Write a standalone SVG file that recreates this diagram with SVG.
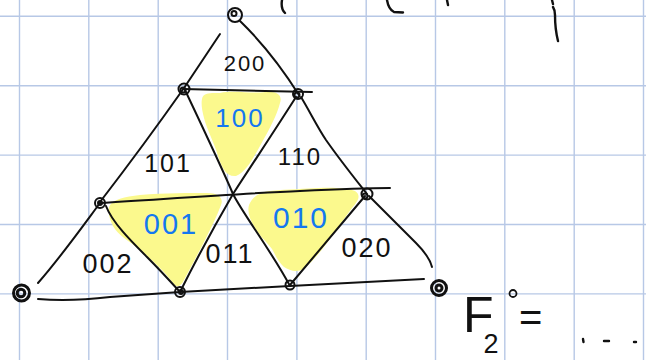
<svg xmlns="http://www.w3.org/2000/svg" width="646" height="360" viewBox="0 0 646 360">
<style>
.grid line{stroke:#b7c8e6;stroke-width:1.4}
.hl{fill:#fbf98d;stroke:none}
.edge{fill:none;stroke:#111;stroke-width:2;stroke-linecap:round;stroke-linejoin:round}
.node circle{fill:none;stroke:#111;stroke-width:2}
.big circle{stroke-width:3}
.lbl{font-family:"Liberation Sans",Arial,sans-serif;fill:#111;text-anchor:middle;letter-spacing:2px}
.blue{fill:#1478f0}
.mark{fill:none;stroke:#111;stroke-width:2.4;stroke-linecap:round}
</style>
<rect width="646" height="360" fill="#ffffff"/>
<g class="grid">
<line x1="19.5" y1="0" x2="19.5" y2="360"/>
<line x1="88.8" y1="0" x2="88.8" y2="360"/>
<line x1="158.2" y1="0" x2="158.2" y2="360"/>
<line x1="227.5" y1="0" x2="227.5" y2="360"/>
<line x1="296.9" y1="0" x2="296.9" y2="360"/>
<line x1="366.2" y1="0" x2="366.2" y2="360"/>
<line x1="435.5" y1="0" x2="435.5" y2="360"/>
<line x1="504.8" y1="0" x2="504.8" y2="360"/>
<line x1="574.2" y1="0" x2="574.2" y2="360"/>
<line x1="643.5" y1="0" x2="643.5" y2="360"/>
<line x1="0" y1="16.3" x2="646" y2="16.3"/>
<line x1="0" y1="85.7" x2="646" y2="85.7"/>
<line x1="0" y1="155.1" x2="646" y2="155.1"/>
<line x1="0" y1="224.5" x2="646" y2="224.5"/>
<line x1="0" y1="293.9" x2="646" y2="293.9"/>
</g>
<g id="highlights">
<path class="hl" d="M202,99 C203,92 212,93 220,93 C235,90 250,94 266,92 C276,91 283,95 280,103 C277,115 270,128 260,146 C252,160 246,172 236,176 C226,177 222,168 218,156 C214,142 207,130 204,118 C202,110 201,104 202,99 Z"/>
<path class="hl" d="M109,207 C112,199 125,197 140,195 C165,193 190,193 207,193 C218,193 224,198 221,205 C218,213 214,222 207,236 C200,250 192,265 184,280 C181,287 176,288 173,283 C165,272 152,260 140,250 C128,240 118,235 113,226 C109,218 108,212 109,207 Z"/>
<path class="hl" d="M249,205 C252,197 260,192 270,191 C290,189 305,189 318,188 C332,187 348,188 355,191 C361,195 359,200 352,208 C346,216 342,222 336,230 C328,242 318,256 305,268 C298,273 290,271 284,267 C278,262 275,254 272,249 C265,240 258,234 255,228 C250,220 247,212 249,205 Z"/>
</g>
<g id="connectors">
<path class="edge" d="M240,21 Q272,52 299,95"/>
<path class="edge" d="M220,34 L184,88"/>
<path class="edge" d="M184,88 C165,115 140,150 100,202"/>
<path class="edge" d="M100,203 C80,230 60,258 38,283"/>
<path class="edge" d="M183,89 L312,92"/>
<path class="edge" d="M185,90 C203,128 222,168 233,194 C243,214 272,252 290,286"/>
<path class="edge" d="M296,97 C275,130 255,160 233,194 C215,225 195,262 180,292"/>
<path class="edge" d="M301,97 C310,112 318,128 326,140 C340,160 352,175 367,194"/>
<path class="edge" d="M100,203 C180,198 250,193 300,191 C340,189 370,188 390,188"/>
<path class="edge" d="M106,206 C112,222 130,240 147,257 C160,270 170,281 180,292"/>
<path class="edge" d="M365,196 L290,285"/>
<path class="edge" d="M369,196 C385,212 400,227 416,243 C425,252 430,259 432,267"/>
<path class="edge" d="M38,299 C60,301 85,300 110,297 L180,292 L290,286 L424,279"/>
</g>
<g id="node-top" class="node"><circle cx="235" cy="15" r="7" stroke-width="2.6"/><circle cx="234" cy="13.5" r="2.5" stroke-width="1.6"/></g>
<g id="node-ul" class="node"><circle cx="184" cy="89" r="5.5"/><circle cx="183" cy="90" r="2.5" stroke-width="1.5"/></g>
<g id="node-ur" class="node"><circle cx="298" cy="94" r="5"/><circle cx="297" cy="95" r="2.5" stroke-width="2"/></g>
<g id="node-ml" class="node"><circle cx="100" cy="203" r="5"/><circle cx="100" cy="203" r="2" stroke-width="1.5"/></g>
<g id="node-mr" class="node"><circle cx="367" cy="194" r="5.5"/><circle cx="365" cy="196" r="2.5" stroke-width="1.8"/></g>
<g id="node-b1" class="node"><circle cx="180" cy="292" r="5"/><circle cx="181" cy="292" r="2" stroke-width="1.5"/></g>
<g id="node-b2" class="node"><circle cx="290" cy="285" r="4.5"/></g>
<g id="node-bl" class="node big"><circle cx="21.5" cy="293" r="8"/><circle cx="21" cy="293" r="3.8" stroke-width="2"/></g>
<g id="node-br" class="node big"><circle cx="439" cy="288" r="7.5"/><circle cx="439" cy="288" r="3" stroke-width="2"/></g>
<g id="labels">
<text class="lbl" x="245" y="71" font-size="22" letter-spacing="4px">200</text>
<text class="lbl blue" x="240" y="127" font-size="26">100</text>
<text class="lbl" x="168" y="172" font-size="25">101</text>
<text class="lbl" x="300" y="164.5" font-size="24">110</text>
<text class="lbl blue" x="171" y="233.5" font-size="29">001</text>
<text class="lbl" x="108" y="273" font-size="27" letter-spacing="5px">002</text>
<text class="lbl" x="230" y="263" font-size="27">011</text>
<text class="lbl blue" x="301" y="228" font-size="30">010</text>
<text class="lbl" x="367" y="256.5" font-size="27" letter-spacing="3px">020</text>
</g>
<g id="formula">
<text x="463" y="332" font-family="Liberation Sans,Arial,sans-serif" font-size="50" fill="#111">F<tspan dx="-10" dy="21" font-size="27">2</tspan></text>
<circle cx="513" cy="293.5" r="3.5" fill="none" stroke="#111" stroke-width="1.8"/>
<text x="519" y="331" font-family="Liberation Sans,Arial,sans-serif" font-size="40" fill="#111">=</text>
<path class="mark" d="M583,339 L583.5,342 M604,341 L609,341 M634,342 L636,342"/>
</g>
<g id="top-marks">
<path class="mark" d="M282,0 C281,6 282,10 285,13"/>
<path class="mark" d="M387,0 C388,6 390,10 394,12 L403,12.5"/>
<path class="mark" d="M447,0 L448,5"/>
<path class="mark" d="M552,0 L553,4 M553,7 C555,10 555,12 555,15 C555,24 556,33 558,41"/>
</g>
</svg>
